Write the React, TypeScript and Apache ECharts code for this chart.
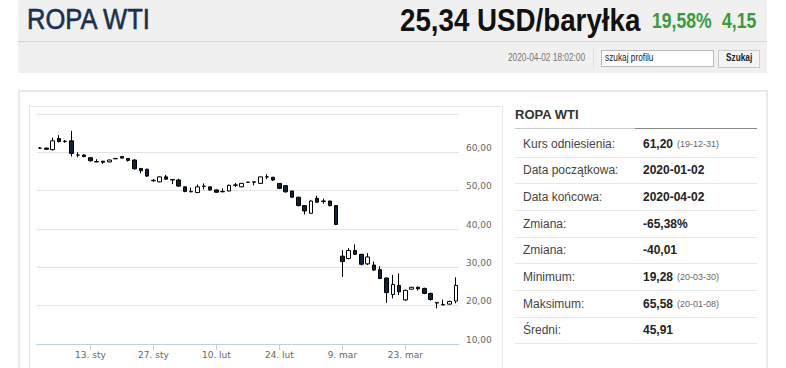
import React, { useEffect, useRef } from "react";
import * as echarts from "echarts";

// ---- data ----
const dates = [
  "2020-01-01", "2020-01-02", "2020-01-03", "2020-01-06", "2020-01-07", "2020-01-08", "2020-01-09", "2020-01-10",
  "2020-01-13", "2020-01-14", "2020-01-15", "2020-01-16", "2020-01-17", "2020-01-20", "2020-01-21", "2020-01-22",
  "2020-01-23", "2020-01-24", "2020-01-27", "2020-01-28", "2020-01-29", "2020-01-30", "2020-01-31",
  "2020-02-03", "2020-02-04", "2020-02-05", "2020-02-06", "2020-02-07", "2020-02-10", "2020-02-11", "2020-02-12",
  "2020-02-13", "2020-02-14", "2020-02-17", "2020-02-18", "2020-02-19", "2020-02-20", "2020-02-21", "2020-02-24",
  "2020-02-25", "2020-02-26", "2020-02-27", "2020-02-28",
  "2020-03-02", "2020-03-03", "2020-03-04", "2020-03-05", "2020-03-06", "2020-03-09", "2020-03-10", "2020-03-11",
  "2020-03-12", "2020-03-13", "2020-03-16", "2020-03-17", "2020-03-18", "2020-03-19", "2020-03-20", "2020-03-23",
  "2020-03-24", "2020-03-25", "2020-03-26", "2020-03-27", "2020-03-30", "2020-03-31",
  "2020-04-01", "2020-04-02",
];
const openPrices = [
  61.1, 61.1, 60.7, 63.6, 62.9, 63.0, 59.3, 59.3, 58.6, 57.6, 57.7, 57.5, 58.3, 58.9, 58.4, 58.0,
  55.8, 55.6, 52.7, 52.3, 53.6, 52.9, 52.8,
  51.0, 49.8, 49.5, 51.2, 51.0, 50.2, 49.8, 49.9, 51.5, 51.0, 52.2, 52.3, 51.9, 53.6, 53.5, 51.9,
  51.3, 49.9, 48.3, 46.1,
  44.1, 48.0, 47.3, 47.3, 46.1, 32.9, 32.3, 34.4, 33.4, 30.9, 30.6, 29.4, 27.2, 22.9, 25.3, 21.5,
  24.3, 24.8, 24.5, 23.2, 20.8, 20.3, 20.4, 21.2,
];
const closePrices = [
  61.1, 60.8, 63.0, 62.8, 62.8, 59.7, 59.3, 58.9, 57.8, 57.5, 57.4, 58.0, 58.4, 58.5, 57.9, 55.7,
  55.2, 53.8, 52.6, 53.6, 53.0, 52.8, 51.2,
  49.8, 49.7, 51.0, 51.1, 50.2, 49.6, 49.7, 51.4, 51.4, 51.9, 52.2, 52.2, 53.6, 53.6, 52.8, 50.6,
  49.7, 48.3, 46.1, 44.7,
  47.3, 47.0, 47.2, 46.1, 41.2, 31.5, 34.4, 33.4, 30.8, 32.7, 29.3, 27.1, 23.4, 25.5, 23.6, 24.0,
  24.8, 24.4, 23.2, 21.6, 20.7, 20.2, 21.1, 25.3,
];
const lowPrices = [
  60.9, 60.7, 60.5, 62.6, 62.5, 58.9, 58.7, 58.7, 57.6, 57.4, 57.0, 57.4, 58.3, 58.4, 57.6, 55.5,
  54.5, 53.6, 52.3, 52.2, 52.9, 51.7, 51.0,
  49.6, 49.6, 49.4, 50.3, 50.0, 49.4, 49.6, 49.8, 51.0, 50.9, 52.1, 51.4, 51.8, 53.0, 52.5, 50.4,
  49.5, 48.1, 45.9, 43.8,
  44.0, 46.8, 46.6, 45.9, 41.0, 27.5, 32.1, 33.2, 30.5, 30.6, 29.1, 26.9, 20.7, 21.9, 22.8, 21.2,
  24.2, 24.0, 23.0, 21.3, 19.3, 20.1, 20.3, 20.6,
];
const highPrices = [
  61.4, 61.2, 63.8, 64.5, 63.2, 65.6, 60.0, 59.5, 58.7, 58.2, 57.7, 58.1, 58.5, 59.0, 58.5, 58.2,
  55.9, 55.7, 53.0, 53.7, 54.1, 52.9, 53.1,
  51.1, 50.8, 51.6, 51.9, 51.1, 50.3, 50.6, 51.6, 52.0, 52.0, 52.3, 52.3, 53.7, 54.3, 53.6, 52.0,
  51.4, 50.0, 48.4, 46.2,
  47.6, 48.7, 47.9, 47.4, 46.2, 34.5, 35.0, 36.0, 33.5, 33.7, 31.5, 30.3, 27.4, 28.0, 28.4, 24.2,
  24.9, 25.0, 24.7, 23.4, 20.9, 21.6, 21.3, 27.4,
];
const monthNames: Record<string, string> = { "01": "sty", "02": "lut", "03": "mar", "04": "kwi" };
const yMin = 10;
const yMax = 70;
const yStep = 10;

const statLabels = ["Kurs odniesienia:", "Data początkowa:", "Data końcowa:", "Zmiana:", "Zmiana:", "Minimum:", "Maksimum:", "Średni:"];
const statValues = ["61,20", "2020-01-02", "2020-04-02", "-65,38%", "-40,01", "19,28", "65,58", "45,91"];
const statNotes = ["(19-12-31)", "", "", "", "", "(20-03-30)", "(20-01-08)", ""];

const FONT = '"Liberation Sans", Arial, sans-serif';

function NText(props: any) {
  const { x, y, size, color, weight, sx, stroke, children } = props;
  return (
    <div
      style={{
        position: "absolute",
        left: x,
        top: y,
        fontSize: size,
        lineHeight: size + "px",
        height: size,
        color,
        fontWeight: weight || "normal",
        fontFamily: FONT,
        transform: `scaleX(${sx || 1})`,
        transformOrigin: "0 0",
        whiteSpace: "nowrap",
        WebkitTextStroke: stroke ? `${stroke}px ${color}` : undefined,
      }}
    >
      {children}
    </div>
  );
}

export default function App() {
  const ref = useRef<HTMLDivElement>(null);

  useEffect(() => {
    if (!ref.current) return;
    const chart = echarts.init(ref.current, undefined, { renderer: "svg" });
    const showIdx = (i: number) => i % 10 === 8;
    chart.setOption({
      animation: false,
      grid: { left: 36.85, right: 327.1, top: 114, bottom: 24, containLabel: false },
      xAxis: {
        type: "category",
        data: dates,
        boundaryGap: true,
        axisLine: { show: true, lineStyle: { color: "#c0d0e0", width: 1 } },
        axisTick: {
          show: true,
          alignWithLabel: true,
          interval: (i: number) => showIdx(i),
          length: 6,
          lineStyle: { color: "#c0d0e0" },
        },
        axisLabel: {
          interval: (i: number) => showIdx(i),
          formatter: (v: string) => {
            const [, m, d] = v.split("-");
            return `${parseInt(d, 10)}. ${monthNames[m]}`;
          },
          color: "#666666",
          fontSize: 9,
          fontFamily: "DejaVu Sans",
          margin: 6,
        },
        splitLine: { show: false },
      },
      yAxis: {
        type: "value",
        position: "right",
        min: yMin,
        max: yMax,
        interval: yStep,
        axisLine: { show: false },
        axisTick: { show: false },
        splitLine: { show: true, lineStyle: { color: "#e3e3e3", width: 1 } },
        axisLabel: {
          formatter: (v: number) => v.toFixed(2).replace(".", ","),
          color: "#666666",
          fontSize: 9,
          fontFamily: "DejaVu Sans",
          margin: 7,
          verticalAlign: "bottom",
          lineHeight: 9,
          showMaxLabel: false,
        },
      },
      series: [
        {
          type: "candlestick",
          barWidth: 4,
          data: dates.map((_, i) => [openPrices[i], closePrices[i], lowPrices[i], highPrices[i]]),
          itemStyle: {
            color: "#ffffff",
            color0: "#0d233a",
            borderColor: "#000000",
            borderColor0: "#000000",
            borderColorDoji: "#000000",
            borderWidth: 1,
          },
        },
      ],
    });
    return () => chart.dispose();
  }, []);

  const rowTop = 130;
  const rowH = 26.67;

  return (
    <div style={{ position: "fixed", left: 0, top: 0, width: 786, height: 368, overflow: "hidden", background: "#ffffff", fontFamily: FONT }}>
      {/* header */}
      <div style={{ position: "absolute", left: 18, top: 0, width: 749, height: 73, background: "#f0f0f0" }} />
      <div style={{ position: "absolute", left: 18, top: 41, width: 749, height: 1, background: "#d6d6d6" }} />
      <NText x={27} y={5} size={29} color="#1b2f4f" sx={0.88} stroke={0.6}>ROPA WTI</NText>
      <NText x={400} y={4} size={32} color="#111111" weight="bold" sx={0.866}>25,34 USD/baryłka</NText>
      <NText x={652} y={10} size={22} color="#3a9a3e" weight="bold" sx={0.8}>19,58%</NText>
      <NText x={722} y={10} size={22} color="#3a9a3e" weight="bold" sx={0.8}>4,15</NText>
      <NText x={508} y={53} size={10} color="#777777" sx={0.83}>2020-04-02 18:02:00</NText>
      <div style={{ position: "absolute", left: 593, top: 48, width: 1, height: 20, background: "#dddddd" }} />
      <div style={{ position: "absolute", left: 601, top: 50, width: 111, height: 15, background: "#ffffff", border: "1px solid #bbbbbb" }} />
      <NText x={605} y={53} size={10} color="#222222" sx={0.83}>szukaj profilu</NText>
      <div style={{ position: "absolute", left: 718, top: 50, width: 40, height: 16, background: "#f4f4f4", border: "1px solid #cccccc" }} />
      <NText x={726} y={53} size={10} color="#222222" weight="bold" sx={0.83}>Szukaj</NText>

      {/* panel */}
      <div style={{ position: "absolute", left: 18, top: 90, width: 746, height: 300, border: "2px solid #e9e9e9" }} />
      <div style={{ position: "absolute", left: 29, top: 106, width: 472, height: 300, border: "1px solid #e6e6e6" }} />

      {/* table */}
      <div style={{ position: "absolute", left: 515, top: 108, fontSize: 13, lineHeight: "14px", fontWeight: "bold", color: "#333333", fontFamily: FONT }}>ROPA WTI</div>
      <div style={{ position: "absolute", left: 515, top: 128, width: 120, height: 1, background: "#cccccc" }} />
      <div style={{ position: "absolute", left: 635, top: 128, width: 122, height: 1, background: "#8a8a8a" }} />
      {statLabels.map((lab, i) => (
        <div key={i}>
          <div style={{ position: "absolute", left: 523, top: rowTop + i * rowH + 6.5, fontSize: 12, lineHeight: "14px", color: "#444444", fontFamily: FONT }}>{lab}</div>
          <div style={{ position: "absolute", left: 643, top: rowTop + i * rowH + 6.5, fontSize: 12, lineHeight: "14px", color: "#222222", fontWeight: "bold", fontFamily: FONT }}>{statValues[i]}</div>
          {statNotes[i] ? (
            <div style={{ position: "absolute", left: 677, top: rowTop + i * rowH + 8.5, fontSize: 9, lineHeight: "10px", color: "#666666", fontFamily: FONT }}>{statNotes[i]}</div>
          ) : null}
          <div style={{ position: "absolute", left: 515, top: rowTop + (i + 1) * rowH, width: 242, height: 1, background: "#e8e8e8" }} />
        </div>
      ))}

      {/* chart */}
      <div ref={ref} style={{ position: "absolute", left: 0, top: 0, width: 786, height: 368 }} />
    </div>
  );
}
